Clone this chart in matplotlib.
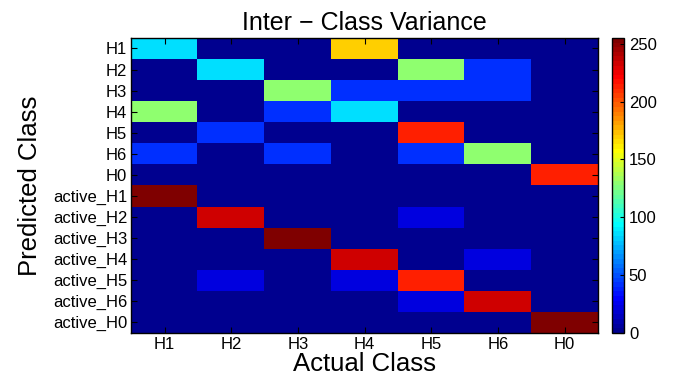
import numpy as np
import matplotlib
matplotlib.use('Agg')
import matplotlib.pyplot as plt
from matplotlib.colors import ListedColormap

plt.rcParams['font.family'] = ['Liberation Sans', 'DejaVu Sans']

actual_labels = ['H1', 'H2', 'H3', 'H4', 'H5', 'H6', 'H0']
predicted_labels = ['H1', 'H2', 'H3', 'H4', 'H5', 'H6', 'H0',
                    'active_H1', 'active_H2', 'active_H3', 'active_H4',
                    'active_H5', 'active_H6', 'active_H0']

# one row per predicted class, columns = actual class
row_H1 = [85, 0, 0, 170, 0, 0, 0]
row_H2 = [0, 85, 0, 0, 127.5, 42.5, 0]
row_H3 = [0, 0, 127.5, 42.5, 42.5, 42.5, 0]
row_H4 = [127.5, 0, 42.5, 85, 0, 0, 0]
row_H5 = [0, 42.5, 0, 0, 212.5, 0, 0]
row_H6 = [42.5, 0, 42.5, 0, 42.5, 127.5, 0]
row_H0 = [0, 0, 0, 0, 0, 0, 212.5]
row_aH1 = [255, 0, 0, 0, 0, 0, 0]
row_aH2 = [0, 233.75, 0, 0, 21.25, 0, 0]
row_aH3 = [0, 0, 255, 0, 0, 0, 0]
row_aH4 = [0, 0, 0, 233.75, 0, 21.25, 0]
row_aH5 = [0, 21.25, 0, 21.25, 212.5, 0, 0]
row_aH6 = [0, 0, 0, 0, 21.25, 233.75, 0]
row_aH0 = [0, 0, 0, 0, 0, 0, 255]

valores = np.array([row_H1, row_H2, row_H3, row_H4, row_H5, row_H6, row_H0,
                    row_aH1, row_aH2, row_aH3, row_aH4, row_aH5, row_aH6, row_aH0])


def matlab_jet(m=64):
    n = int(np.ceil(m / 4))
    u = np.concatenate([np.arange(1, n + 1) / n, np.ones(n - 1), np.arange(n, 0, -1) / n])
    g = int(np.ceil(n / 2)) - (1 if m % 4 == 1 else 0) + np.arange(1, len(u) + 1)
    r = g + n
    b = g - n
    cores = np.zeros((m, 3))
    for canal, idx in enumerate([r, g, b]):
        ok = (idx >= 1) & (idx <= m)
        cores[idx[ok] - 1, canal] = u[ok]
    return ListedColormap(cores)


fig = plt.figure(figsize=(6.88, 3.83), dpi=100)
ax = fig.add_axes([0.191, 0.131, 0.678, 0.770])
cax = fig.add_axes([0.890, 0.131, 0.017, 0.770])

im = ax.imshow(valores, cmap=matlab_jet(64), vmin=0, vmax=255,
               aspect='auto', interpolation='nearest')

ax.set_xticks(range(len(actual_labels)))
ax.set_xticklabels(actual_labels, fontsize=12)
ax.set_yticks(range(len(predicted_labels)))
ax.set_yticklabels(predicted_labels, fontsize=12)
ax.tick_params(direction='in', top=True, right=True, length=4, width=0.8, pad=3)
for s in ax.spines.values():
    s.set_linewidth(1.0)

ax.set_xlabel('Actual Class', fontsize=18.5, labelpad=0)
ax.set_ylabel('Predicted Class', fontsize=18.5, labelpad=8)
ax.set_title('Inter \u2212 Class Variance', fontsize=18, pad=6)

cb = fig.colorbar(im, cax=cax)
cb.set_ticks([0, 50, 100, 150, 200, 250])
cb.ax.tick_params(labelsize=12, direction='in', length=3, width=0.8)
cb.outline.set_linewidth(1.0)

plt.savefig('out.png', dpi=100)
plt.close()
